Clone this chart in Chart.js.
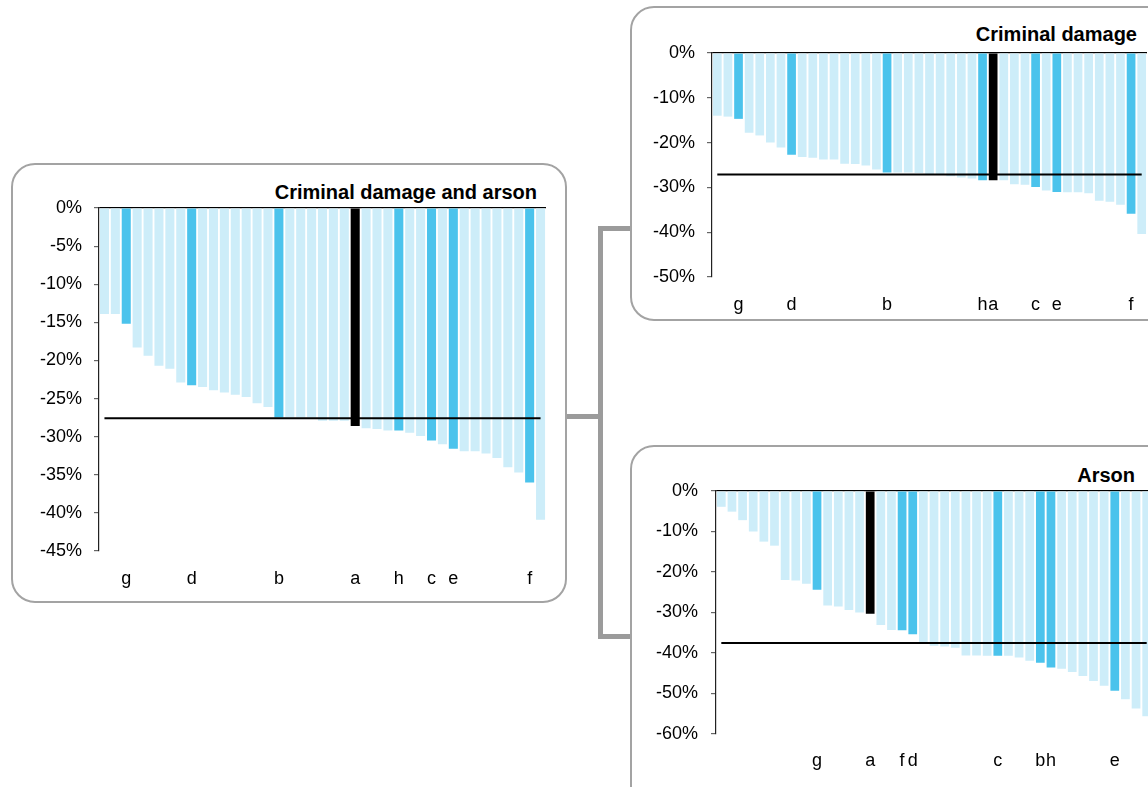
<!DOCTYPE html>
<html>
<head>
<meta charset="utf-8">
<script src="https://cdn.jsdelivr.net/npm/chart.js@4/dist/chart.umd.min.js"></script>
<style>
  html, body { margin: 0; padding: 0; background: #fff; }
  body { width: 1148px; height: 787px; overflow: hidden; position: relative; font-family: "Liberation Sans", Arial, sans-serif; }
  .panel { position: absolute; box-sizing: border-box; border: 2px solid #a3a3a3; border-radius: 24px; background: #fff; }
  .bar { position: absolute; background: #9b9b9b; }
  canvas { position: absolute; }
  .title { position: absolute; font-weight: bold; font-size: 20px; color: #000; white-space: nowrap; line-height: 1; }
</style>
</head>
<body>
<!-- connector bracket -->
<div class="bar" style="left:566px; top:414px; width:34px; height:5px;"></div>
<div class="bar" style="left:598px; top:226px; width:5px; height:413px;"></div>
<div class="bar" style="left:598px; top:226px; width:33px; height:5px;"></div>
<div class="bar" style="left:598px; top:634px; width:33px; height:5px;"></div>

<div class="panel" style="left:11px; top:163px; width:556px; height:440px;"></div>
<div class="panel" style="left:630px; top:6px; width:600px; height:315px;"></div>
<div class="panel" style="left:630px; top:445px; width:600px; height:420px;"></div>

<div class="title" style="right:611px; top:182px;">Criminal damage and arson</div>
<div class="title" style="right:11px; top:24px;">Criminal damage</div>
<div class="title" style="right:13px; top:465px;">Arson</div>

<canvas id="cLeft" width="554" height="438" style="left:12px; top:164px;"></canvas>
<canvas id="cTop" width="517" height="313" style="left:631px; top:7px;"></canvas>
<canvas id="cBottom" width="522" height="341" style="left:630px; top:446px;"></canvas>

<script>
// ---------- DATA ----------
// Criminal damage and arson (percentage change)
const leftLabels = ['', '', 'g', '', '', '', '', '', 'd', '', '', '', '', '', '', '', 'b', '', '', '', '', '', '', 'a', '', '', '', 'h', '', '', 'c', '', 'e', '', '', '', '', '', '', 'f', ''];
const leftValues = [-13.9, -13.9, -15.2, -18.3, -19.4, -20.7, -21.1, -22.9, -23.25, -23.5, -23.9, -24.2, -24.5, -24.8, -25.6, -26.1, -27.5, -27.5, -27.5, -27.5, -27.9, -27.9, -27.9, -28.6, -28.9, -29.0, -29.2, -29.2, -29.5, -29.9, -30.5, -31.0, -31.6, -31.9, -31.9, -32.2, -32.8, -34.0, -34.7, -36.0, -40.9];
const leftAverage = -27.6;
const leftTicks = [0, -5, -10, -15, -20, -25, -30, -35, -40, -45];

// Criminal damage
const topLabels = ['', '', 'g', '', '', '', '', 'd', '', '', '', '', '', '', '', '', 'b', '', '', '', '', '', '', '', '', 'h', 'a', '', '', '', 'c', '', 'e', '', '', '', '', '', '', 'f', ''];
const topValues = [-14.0, -14.2, -14.7, -17.8, -18.4, -20.0, -21.1, -22.7, -23.2, -23.4, -23.8, -23.8, -24.7, -24.8, -25.1, -26.0, -26.7, -26.7, -26.7, -26.8, -27.0, -27.2, -27.5, -27.8, -28.0, -28.4, -28.4, -28.4, -29.3, -29.4, -29.9, -30.7, -31.0, -31.1, -31.1, -31.3, -33.0, -33.2, -33.9, -35.9, -40.4];
const topAverage = -27.1;
const topTicks = [0, -10, -20, -30, -40, -50];

// Arson
const bottomLabels = ['', '', '', '', '', '', '', '', '', 'g', '', '', '', '', 'a', '', '', 'f', 'd', '', '', '', '', '', '', '', 'c', '', '', '', 'b', 'h', '', '', '', '', '', 'e', '', '', ''];
const bottomValues = [-3.9, -5.1, -7.2, -10.0, -12.5, -13.5, -22.0, -22.1, -22.9, -24.4, -28.3, -28.5, -29.4, -30.0, -30.3, -33.1, -34.3, -34.4, -35.4, -37.8, -38.2, -38.4, -38.7, -40.6, -40.6, -40.7, -40.7, -40.7, -41.1, -41.9, -42.4, -43.6, -43.9, -44.7, -45.7, -46.9, -48.1, -49.3, -51.4, -53.7, -55.6];
const bottomAverage = -37.5;
const bottomTicks = [0, -10, -20, -30, -40, -50, -60];

// ---------- STYLE ----------
const LIGHT = '#cdedf9';
const MID = '#4bc3ec';
const DARK = '#000000';
const FONT = '"Liberation Sans", Arial, sans-serif';

function barColors(labels) {
  return labels.map(l => l === '' ? LIGHT : (l === 'a' ? DARK : MID));
}

function makeChart(id, labels, values, average, ticks, geom) {
  const n = labels.length;
  const minV = Math.min.apply(null, ticks), maxV = Math.max.apply(null, ticks);
  const step = ticks[0] - ticks[1];
  return new Chart(document.getElementById(id), {
    data: {
      labels: labels,
      datasets: [
        {
          type: 'line',
          xAxisID: 'x2',
          data: [{ x: 0, y: average }, { x: n - 1, y: average }],
          borderColor: '#000',
          borderWidth: 2,
          pointRadius: 0,
          order: 0
        },
        {
          type: 'bar',
          xAxisID: 'x',
          data: values,
          backgroundColor: barColors(labels),
          borderWidth: 0,
          grouped: false,
          barPercentage: geom.barPct,
          categoryPercentage: 1,
          order: 1
        }
      ]
    },
    options: {
      responsive: false,
      animation: false,
      devicePixelRatio: 1,
      layout: { padding: { left: 0, right: geom.padRight, top: geom.padTop, bottom: 0 } },
      plugins: { legend: { display: false }, tooltip: { enabled: false }, title: { display: false } },
      scales: {
        x: {
          type: 'category',
          offset: true,
          grid: { display: true, drawOnChartArea: false, drawTicks: true, tickLength: geom.xPad, tickColor: 'rgba(0,0,0,0)', color: 'rgba(0,0,0,0)' },
          border: { display: false },
          ticks: {
            autoSkip: false, maxRotation: 0, minRotation: 0,
            color: '#000', padding: 0,
            font: { family: FONT, size: 18 }
          },
          afterFit: s => { s.height = geom.xHeight; }
        },
        x2: {
          type: 'linear',
          display: false,
          min: -0.5,
          max: n - 0.5
        },
        y: {
          min: minV, max: maxV,
          afterBuildTicks: s => { s.ticks = ticks.map(v => ({ value: v })); },
          ticks: {
            stepSize: step,
            color: '#000', padding: geom.yPad,
            font: { family: FONT, size: 18 },
            callback: v => v + '%'
          },
          grid: {
            drawOnChartArea: true,
            color: c => (c.tick && c.tick.value === 0) ? '#000' : 'rgba(0,0,0,0)',
            tickColor: '#666',
            tickLength: 5,
            lineWidth: 1.2
          },
          border: { display: true, color: '#222', width: 1.2 },
          afterFit: s => { s.width = geom.yWidth; }
        }
      }
    }
  });
}

makeChart('cLeft', leftLabels, leftValues, leftAverage, leftTicks,
  { padRight: 20, padTop: 44, xHeight: 51, yWidth: 87, barPct: 0.83, xPad: 17, yPad: 12 });
makeChart('cTop', topLabels, topValues, topAverage, topTicks,
  { padRight: 1, padTop: 46, xHeight: 43, yWidth: 81, barPct: 0.82, xPad: 17, yPad: 12 });
makeChart('cBottom', bottomLabels, bottomValues, bottomAverage, bottomTicks,
  { padRight: 0, padTop: 45, xHeight: 53, yWidth: 86, barPct: 0.82, xPad: 16, yPad: 13 });
</script>
</body>
</html>
